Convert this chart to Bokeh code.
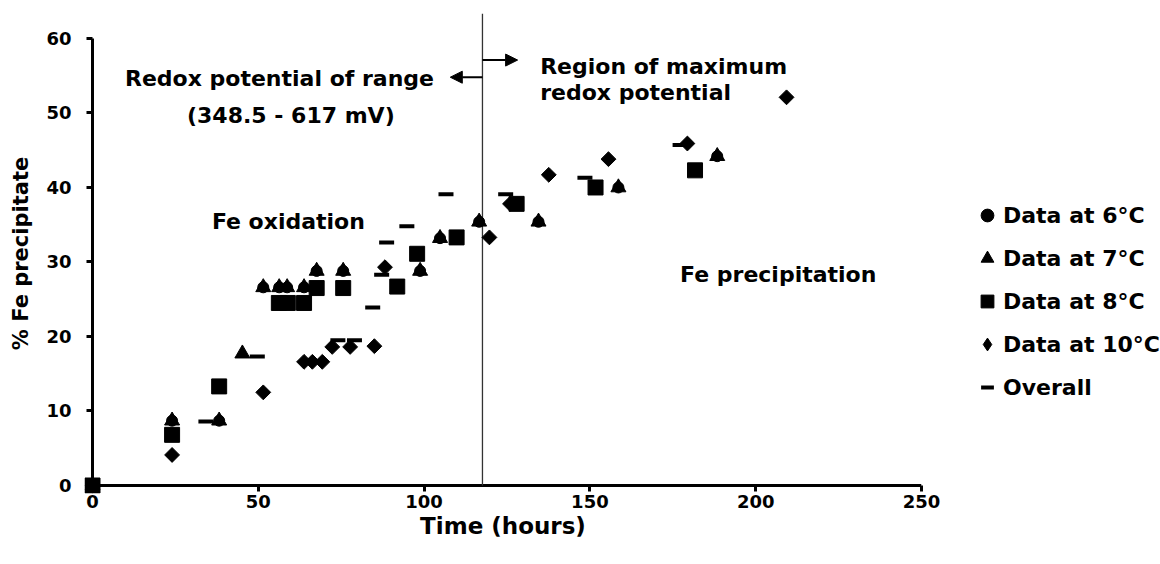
import numpy as np
from bokeh.plotting import figure
from bokeh.models import Range1d, FixedTicker, Legend, LegendItem, Arrow, NormalHead, Label
from bokeh.embed import file_html
from bokeh.resources import INLINE

FONT = "DejaVu Sans"

# ---- data (hours, % Fe precipitate) ----
t6 = [0, 24, 38.2, 51.5, 56.3, 58.7, 63.8, 67.6, 75.6, 98.8, 104.8, 116.6, 134.5, 158.6, 188.4]
fe6 = [0, 8.7, 8.7, 26.6, 26.6, 26.6, 26.6, 28.8, 28.8, 28.8, 33.2, 35.4, 35.4, 40.0, 44.2]

t7 = [0, 24, 38.2, 45.2, 51.5, 56.3, 58.7, 63.8, 67.6, 75.6, 98.8, 104.8, 116.6, 134.5, 158.6, 188.4]
fe7 = [0, 8.7, 8.7, 17.7, 26.6, 26.6, 26.6, 26.6, 28.8, 28.8, 28.8, 33.2, 35.4, 35.4, 40.0, 44.2]

t8 = [0, 24, 38.2, 56.2, 58.9, 63.8, 67.6, 75.6, 91.9, 97.9, 109.8, 127.9, 151.7, 181.7]
fe8 = [0, 6.8, 13.3, 24.5, 24.5, 24.5, 26.5, 26.5, 26.7, 31.1, 33.3, 37.8, 40.0, 42.3]

t10 = [0, 24, 51.5, 63.8, 66.3, 69.3, 72.3, 77.7, 85.0, 88.2, 119.7, 125.9, 137.6, 155.6, 179.4, 209.3]
fe10 = [0, 4.1, 12.5, 16.6, 16.6, 16.6, 18.6, 18.6, 18.7, 29.3, 33.3, 37.8, 41.7, 43.8, 45.9, 52.1]

t_all = [34.2, 49.7, 74.0, 79.0, 84.5, 87.2, 88.7, 94.8, 106.6, 124.6, 148.5, 177.2]
fe_all = [8.6, 17.3, 19.5, 19.5, 23.9, 28.3, 32.6, 34.8, 39.1, 39.1, 41.3, 45.7]

series_labels = ["Data at 6°C", "Data at 7°C", "Data at 8°C", "Data at 10°C", "Overall"]
x_ticks = [0, 50, 100, 150, 200, 250]
y_ticks = [0, 10, 20, 30, 40, 50, 60]
x_max = 250
y_max = 60
x_title = "Time (hours)"
y_title = "% Fe precipitate"
boundary_time = 117.6

# frame extends 8 px beyond the data origin so the marker at (0, 0) is not clipped
X_PX = 829 / x_max          # px per hour
Y_PX = 472 / 63.35          # px per % unit
X_LO = -8 / X_PX
Y_LO = -8 / Y_PX
Y_TOP = 63.35

p = figure(frame_width=837, frame_height=480,
           min_border_left=84, min_border_right=239, min_border_top=13, min_border_bottom=71,
           x_range=Range1d(X_LO, x_max), y_range=Range1d(Y_LO, Y_TOP),
           output_backend="svg", toolbar_location=None)
p.outline_line_color = None
p.xgrid.visible = False
p.ygrid.visible = False
p.background_fill_color = "white"
p.border_fill_color = "white"

for ax, ticks in ((p.xaxis, x_ticks), (p.yaxis, y_ticks)):
    ax.ticker = FixedTicker(ticks=ticks)
    ax.axis_line_alpha = 0
    ax.major_tick_line_width = 3
    ax.major_tick_line_color = "black"
    ax.major_tick_out = -2
    ax.major_tick_in = 8
    ax.minor_tick_out = 0
    ax.minor_tick_in = 0
    ax.major_label_text_font = FONT
    ax.major_label_text_font_style = "bold"
    ax.major_label_text_font_size = "18px"
    ax.major_label_text_color = "black"
    ax.axis_label_text_font = FONT
    ax.axis_label_text_font_style = "bold"
    ax.axis_label_text_color = "black"

p.xaxis.axis_label = x_title
p.yaxis.axis_label = y_title
p.xaxis.axis_label_text_font_size = "23px"
p.yaxis.axis_label_text_font_size = "21px"
p.xaxis.major_label_standoff = 1
p.yaxis.major_label_standoff = 13
p.xaxis.axis_label_standoff = 2
p.yaxis.axis_label_standoff = 10

# axis lines through the data origin
p.segment(x0=[0, 0], y0=[0, 0], x1=[x_max, 0], y1=[0, y_max], line_color="black", line_width=3)

# boundary line between the two redox regions
p.segment(x0=[boundary_time], y0=[0], x1=[boundary_time], y1=[Y_TOP], line_color="#333333", line_width=1.3)

r6 = p.scatter(t6, fe6, marker="circle", size=11, color="black")
r7 = p.scatter(t7, fe7, marker="triangle", size=15, color="black")
r8 = p.scatter(t8, fe8, marker="square", size=15, color="black")
r10_leg = p.scatter(t10, fe10, marker="diamond", size=12, color="black")
r10 = p.scatter(t10, fe10, marker="square", angle=np.pi / 4, size=10.5, color="black")
rall = p.scatter(t_all, fe_all, marker="dash", size=15, line_width=4, color="black")

# arrows
p.add_layout(Arrow(end=NormalHead(size=12, fill_color="black", line_color="black"),
                   x_start=boundary_time, y_start=54.8, x_end=107.9, y_end=54.8,
                   line_width=2, line_color="black"))
p.add_layout(Arrow(end=NormalHead(size=12, fill_color="black", line_color="black"),
                   x_start=boundary_time, y_start=57.1, x_end=128.2, y_end=57.1,
                   line_width=2, line_color="black"))

def lab(x, y, txt):
    p.add_layout(Label(x=x, y=y, text=txt, text_font=FONT, text_font_style="bold",
                       text_font_size="22px", text_color="black",
                       text_align="left", text_baseline="alphabetic"))

lab(9.8, 54.6, "Redox potential of range")
lab(28.5, 49.7, "(348.5 - 617 mV)")
lab(135.0, 56.3, "Region of maximum")
lab(135.0, 52.7, "redox potential")
lab(36.0, 35.4, "Fe oxidation")
lab(177.2, 28.3, "Fe precipitation")

legend = Legend(items=[LegendItem(label=l, renderers=[r]) for l, r in
                       zip(series_labels, [r6, r7, r8, r10_leg, rall])],
                location=(50, 90), orientation="vertical",
                glyph_width=32, glyph_height=32, label_height=32, spacing=11,
                label_standoff=0, padding=0, margin=0,
                border_line_alpha=0, background_fill_alpha=0,
                label_text_font=FONT, label_text_font_style="bold",
                label_text_font_size="22px", label_text_color="black")
p.add_layout(legend, "right")

open("out.html", "w").write(file_html(p, INLINE))
